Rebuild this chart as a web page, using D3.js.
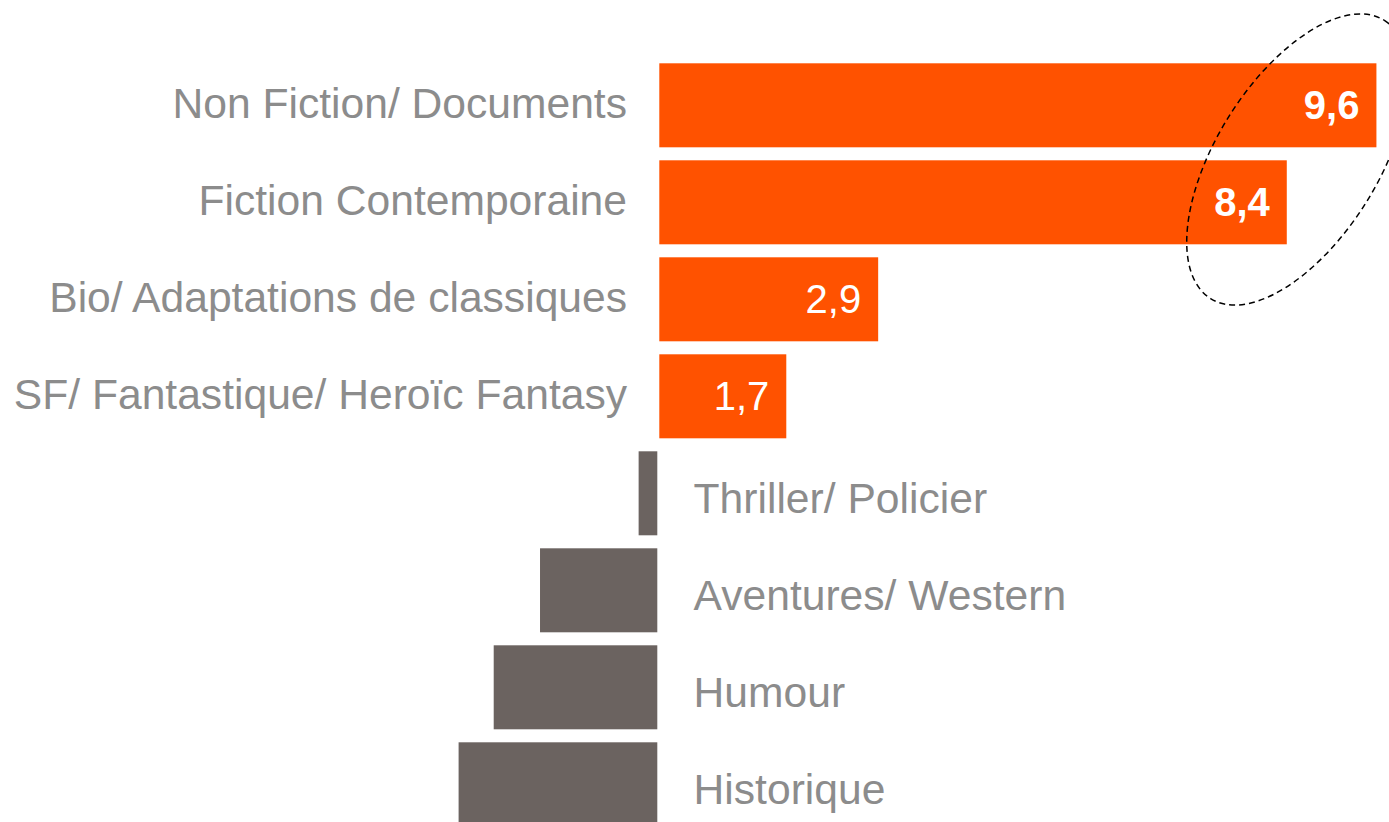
<!DOCTYPE html>
<html>
<head>
<meta charset="utf-8">
<script src="https://cdn.jsdelivr.net/npm/d3@7/dist/d3.min.js"></script>
<style>
html,body{margin:0;padding:0;background:#fff;overflow:hidden;}
svg{display:block;}
text{font-family:"Liberation Sans",Arial,Helvetica,sans-serif;}
</style>
</head>
<body>
<svg id="chart" width="1389" height="822"></svg>
<script>
const categories = ["Non Fiction/ Documents","Fiction Contemporaine","Bio/ Adaptations de classiques","SF/ Fantastique/ Heroïc Fantasy","Thriller/ Policier","Aventures/ Western","Humour","Historique"];
const values = [9.6, 8.4, 2.93, 1.7, -0.25, -1.57, -2.19, -2.66];
const valueLabels = ["9,6","8,4","2,9","1,7","","","",""];
const boldLabels = [true, true, false, false, false, false, false, false];

const svg = d3.select("#chart");

const zeroX = 658.3;
const pxPerUnit = 74.7;
const x = d3.scaleLinear().domain([0, 9.6]).range([zeroX, zeroX + 9.6*pxPerUnit]);

const step = 97;
const pIn = 13/97;
const y = d3.scaleBand().domain(categories)
  .range([63.3 - step*pIn/2, 63.3 - step*pIn/2 + step*categories.length])
  .paddingInner(pIn).paddingOuter(pIn/2);

const data = categories.map((c,i)=>({c, v: values[i], lab: valueLabels[i], bold: boldLabels[i]}));

const orange = "#FF5200";
const grey = "#6B6360";
const textGrey = "#8C8C8C";

svg.append("g").selectAll("rect").data(data).join("rect")
  .attr("x", d => d.v >= 0 ? x(0) + 1 : x(d.v) - 1)
  .attr("width", d => Math.abs(x(d.v) - x(0)))
  .attr("y", d => y(d.c))
  .attr("height", y.bandwidth())
  .attr("fill", d => d.v >= 0 ? orange : grey);

// category labels
svg.append("g").selectAll("text").data(data).join("text")
  .attr("x", d => d.v >= 0 ? x(0) - 31.3 : x(0) + 35.3)
  .attr("y", d => y(d.c) + y.bandwidth()/2 + (d.v >= 0 ? 12.5 : 19.5))
  .attr("text-anchor", d => d.v >= 0 ? "end" : "start")
  .attr("font-size", 42.6)
  .attr("fill", textGrey)
  .text(d => d.c);

// value labels
svg.append("g").selectAll("text").data(data.filter(d => d.lab)).join("text")
  .attr("x", d => x(d.v) - 16)
  .attr("y", d => y(d.c) + y.bandwidth()/2 + 14)
  .attr("text-anchor", "end")
  .attr("font-size", 40)
  .attr("font-weight", d => d.bold ? "bold" : "normal")
  .attr("fill", "#fff")
  .text(d => d.lab);

// dashed highlight ellipse
svg.append("ellipse")
  .attr("cx", 0).attr("cy", 0)
  .attr("rx", 164).attr("ry", 81)
  .attr("transform", "translate(1297.5,159.5) rotate(-58)")
  .attr("fill", "none")
  .attr("stroke", "#000")
  .attr("stroke-width", 1.5)
  .attr("stroke-dasharray", "6,4");
</script>
</body>
</html>
